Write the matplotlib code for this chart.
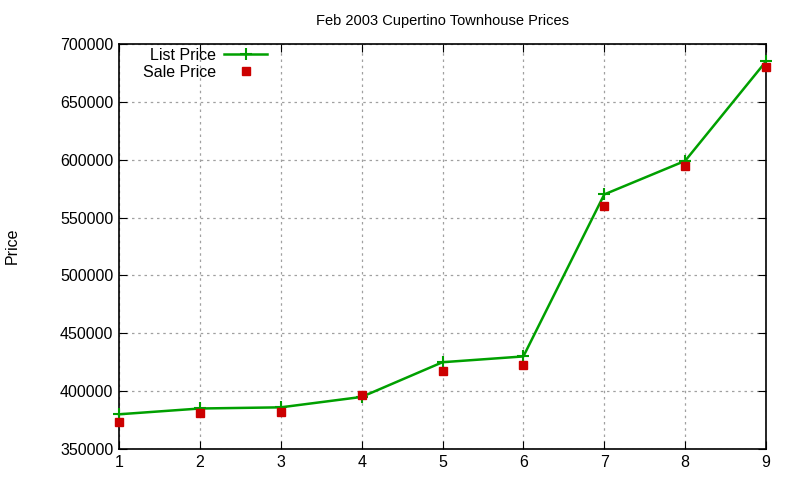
import matplotlib
matplotlib.use("Agg")
import matplotlib.pyplot as plt

# house number (x) and prices
house = [1, 2, 3, 4, 5, 6, 7, 8, 9]
list_price = [380000, 385000, 386000, 395000, 425000, 430000, 570000, 599000, 685000]
sale_price = [373000, 381000, 382000, 397000, 417000, 423000, 560000, 595000, 680000]

plt.rcParams['font.family'] = ['Liberation Sans', 'DejaVu Sans']

fig = plt.figure(figsize=(8, 4.8), dpi=100)
ax = fig.add_axes([119/800, 31/480, 647/800, 405/480])

ax.plot(house, list_price, color='#00a000', linewidth=1.8, marker='+',
        markersize=8, markeredgewidth=1.5, label='List Price', clip_on=False, zorder=3)
ax.plot(house, sale_price, color='#cc0000', linestyle='none', marker='s',
        markersize=6, label='Sale Price', clip_on=False, zorder=3)

ax.set_xlim(1, 9)
ax.set_ylim(350000, 700000)
ax.set_yticks(range(350000, 700001, 50000))
ax.set_xticks(house)
ax.grid(True, color='#a0a0a0', linestyle=(0, (2, 3)), linewidth=0.9)
ax.tick_params(direction='in', top=True, right=True, labelsize=11.5, length=6, pad=4)
for s in ax.spines.values():
    s.set_linewidth(1.2)

ax.set_title('Feb 2003 Cupertino Townhouse Prices', fontsize=10.5, pad=14)
fig.text(12/800, 1 - 246/480, 'Price', rotation=90, ha='center', va='center', fontsize=11.5)

ax.legend(loc='upper left', frameon=False, markerfirst=False, fontsize=11.5,
          handlelength=2.7, borderaxespad=0.1, labelspacing=0.1, handletextpad=0.5,
          bbox_to_anchor=(0.025, 1.01))

fig.savefig('out.png', dpi=100)
